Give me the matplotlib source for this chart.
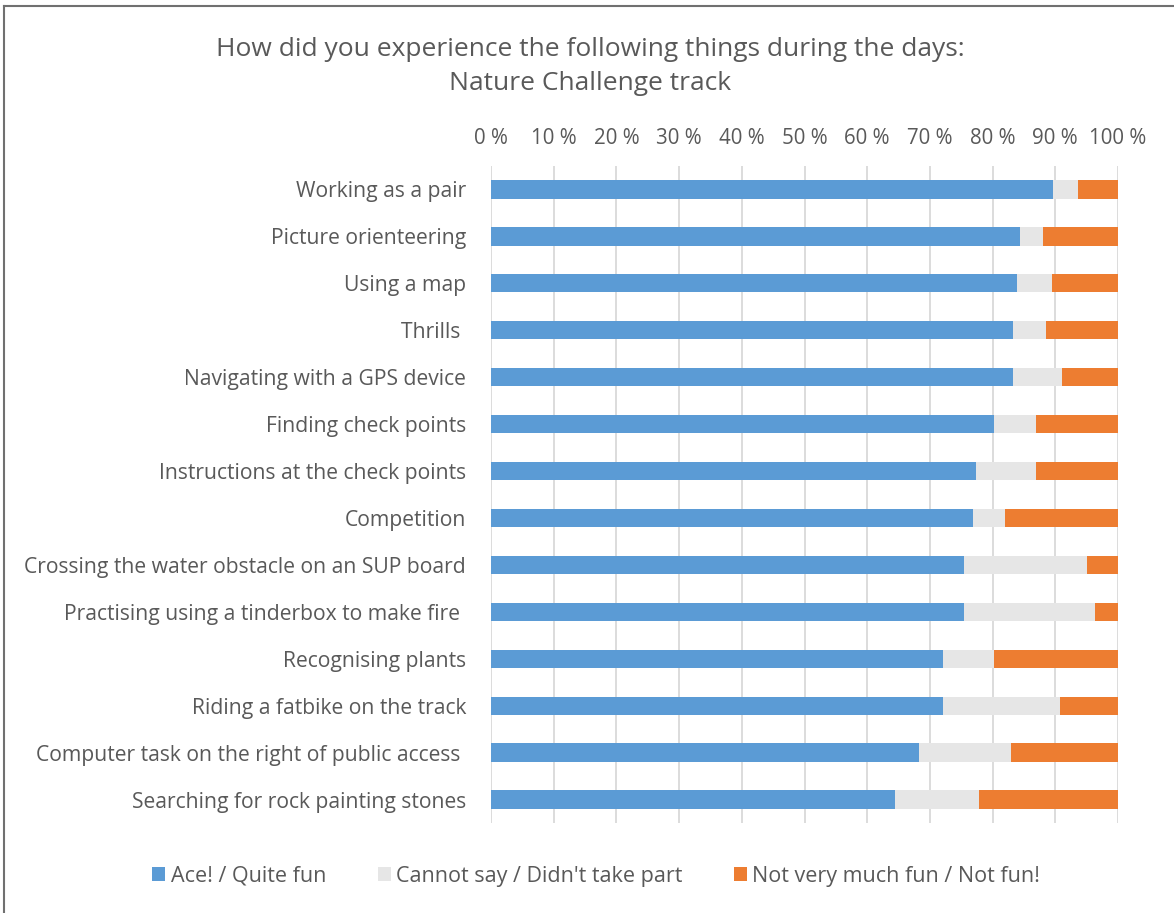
import matplotlib.pyplot as plt
from matplotlib.lines import Line2D
from matplotlib.patches import Patch

plt.rcParams["font.family"] = ["Open Sans", "DejaVu Sans"]

activities = [
    "Working as a pair",
    "Picture orienteering",
    "Using a map",
    "Thrills ",
    "Navigating with a GPS device",
    "Finding check points",
    "Instructions at the check points",
    "Competition",
    "Crossing the water obstacle on an SUP board",
    "Practising using a tinderbox to make fire ",
    "Recognising plants",
    "Riding a fatbike on the track",
    "Computer task on the right of public access ",
    "Searching for rock painting stones",
]
fun = [89.7, 84.3, 83.9, 83.2, 83.2, 80.3, 77.4, 76.8, 75.4, 75.4, 72.1, 72.1, 68.3, 64.4]
cannot_say = [4.0, 3.8, 5.5, 5.3, 7.9, 6.6, 9.5, 5.2, 19.6, 20.9, 8.2, 18.6, 14.7, 13.4]
not_fun = [6.3, 11.9, 10.6, 11.5, 8.9, 13.1, 13.1, 18.0, 5.0, 3.7, 19.7, 9.3, 17.0, 22.2]

series_names = ["Ace! / Quite fun", "Cannot say / Didn't take part", "Not very much fun / Not fun!"]
colors = ["#5b9bd5", "#e6e6e6", "#ed7d31"]
text_color = "#595959"

fig = plt.figure(figsize=(11.74, 9.13), dpi=100)
ax = fig.add_axes([491 / 1174, 1 - 823 / 913, 627 / 1174, 657 / 913])

rows = list(range(len(activities)))
left = [0.0] * len(activities)
for values, color in zip([fun, cannot_say, not_fun], colors):
    ax.barh(rows, values, left=left, height=0.39, color=color, zorder=2)
    left = [a + b for a, b in zip(left, values)]

ax.set_xlim(0, 100)
ax.set_ylim(len(activities) - 0.5, -0.5)
ax.set_xticks(range(0, 101, 10))
ax.set_xticklabels([f"{t} %" for t in range(0, 101, 10)])
ax.xaxis.tick_top()
ax.set_yticks(rows)
ax.set_yticklabels(activities)
ax.tick_params(axis="x", length=0, pad=12, labelsize=14.8, labelcolor=text_color)
ax.tick_params(axis="y", length=0, pad=18, labelsize=15.2, labelcolor=text_color)
ax.grid(axis="x", color="#d9d9d9", linewidth=1.3, zorder=0)
for spine in ax.spines.values():
    spine.set_visible(False)

fig.text(0.503, 1 - 50 / 913, "How did you experience the following things during the days:",
         ha="center", va="center", fontsize=19, color=text_color)
fig.text(0.503, 1 - 83 / 913, "Nature Challenge track",
         ha="center", va="center", fontsize=19, color=text_color)

handles = [Patch(facecolor=c, edgecolor="none") for c in colors]
fig.legend(handles, series_names, loc="center", bbox_to_anchor=(0.508, 1 - 876 / 913),
           ncol=3, frameon=False, fontsize=15.5, labelcolor=text_color,
           handlelength=0.6, handleheight=0.6, handletextpad=0.25, columnspacing=2.4)

# chart frame (top and left edges)
fig.add_artist(Line2D([4 / 1174, 1], [1 - 6 / 913, 1 - 6 / 913], color="#707070", linewidth=1.5))
fig.add_artist(Line2D([4 / 1174, 4 / 1174], [0, 1 - 6 / 913], color="#707070", linewidth=1.5))

fig.savefig("out.png", dpi=100)
